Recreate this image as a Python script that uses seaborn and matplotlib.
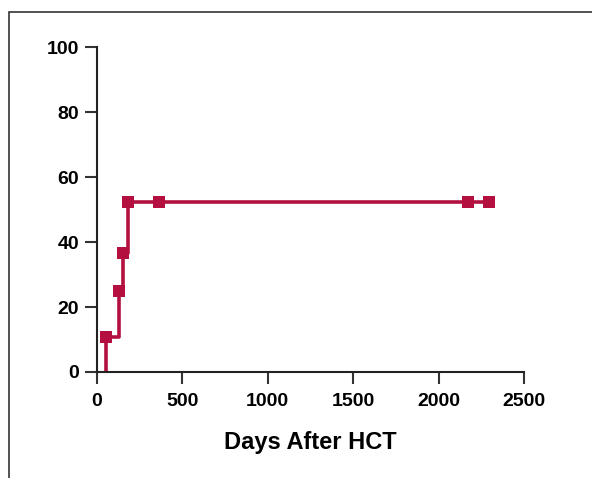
import matplotlib
matplotlib.use("Agg")
import matplotlib.pyplot as plt
import seaborn as sns
import pandas as pd
from matplotlib.patches import Rectangle

# data
step_days = [53, 53, 126, 150, 183, 2295]
step_pct = [0, 10.8, 24.8, 36.7, 52.3, 52.3]
marker_days = [53, 126, 150, 183, 363, 2172, 2295]
marker_pct = [10.8, 24.8, 36.7, 52.3, 52.3, 52.3, 52.3]
x_ticks = [0, 500, 1000, 1500, 2000, 2500]
y_ticks = [0, 20, 40, 60, 80, 100]
x_label = "Days After HCT"

color = "#B3103F"

sns.set_theme(style="ticks")
plt.rcParams["font.family"] = ["Liberation Sans", "DejaVu Sans"]
plt.rcParams["text.color"] = "black"
plt.rcParams["axes.labelcolor"] = "black"

fig = plt.figure(figsize=(5.92, 4.78), dpi=100)
ax = fig.add_axes([97/592, 1-372/478, (524-97)/592, (372-47)/478])

steps = pd.DataFrame({"day": step_days, "pct": step_pct})
marks = pd.DataFrame({"day": marker_days, "pct": marker_pct})

sns.lineplot(data=steps, x="day", y="pct", ax=ax, estimator=None, sort=False,
             drawstyle="steps-post", color=color, linewidth=2.6, clip_on=True)
sns.scatterplot(data=marks, x="day", y="pct", ax=ax, marker="s", s=75,
                color=color, edgecolor=color, linewidth=0, zorder=5, clip_on=False)

ax.set_xlim(0, 2500)
ax.set_ylim(0, 100)
ax.set_xticks(x_ticks)
ax.set_yticks(y_ticks)
ax.set_xticklabels([str(t) for t in x_ticks], fontweight="bold", fontsize=14)
ax.set_yticklabels([str(t) for t in y_ticks], fontweight="bold", fontsize=14)
ax.set_xlabel(x_label, fontweight="bold", fontsize=17, labelpad=15, color="black")
ax.set_ylabel("")
for s in ["top", "right"]:
    ax.spines[s].set_visible(False)
for s in ["left", "bottom"]:
    ax.spines[s].set_linewidth(1.5)
    ax.spines[s].set_color("#222222")
ax.tick_params(axis="both", length=8.5, width=1.5, color="#333333", labelcolor="black")
ax.tick_params(axis="x", pad=6.5)
ax.tick_params(axis="y", pad=4.5)

# outer frame
fig.patches.append(Rectangle((9/592, -0.1), 1.2, 1 - 12/478 + 0.1, transform=fig.transFigure,
                             fill=False, edgecolor="#333333", linewidth=1.2, clip_on=False))

fig.savefig("out.png", dpi=100)
